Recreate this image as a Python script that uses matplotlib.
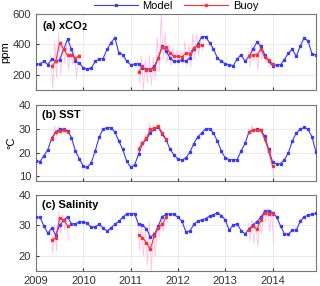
import numpy as np
import matplotlib
matplotlib.use("Agg")
import matplotlib.pyplot as plt

plt.rcParams['font.family'] = ['Liberation Sans', 'DejaVu Sans']

# meses desde enero 2009 (72 valores mensuales)
anios = 2009 + np.arange(72) / 12.0

# --- xCO2 (ppm) ---
co2_modelo = [270, 272, 290, 268, 305, 289, 300, 367, 435, 367, 289, 278,
              244, 240, 244, 289, 304, 307, 367, 411, 444, 344, 333, 289,
              267, 271, 273, 244, 238, 235, 256, 311, 389, 356, 311, 289,
              289, 300, 289, 311, 371, 400, 451, 451, 411, 371, 311, 289,
              273, 267, 260, 304, 333, 289, 322, 367, 415, 389, 333, 289,
              260, 267, 267, 300, 344, 367, 322, 389, 444, 422, 336, 333]
co2_boya_mes = [list(range(4, 12)), list(range(26, 43)), list(range(54, 61))]
co2_boya = [[256, 289, 411, 367, 329, 329, 311, 327],
            [218, 256, 229, 240, 240, 311, 384, 382, 344, 322, 322, 318, 344, 340, 378, 393, 396],
            [327, 333, 333, 367, 318, 296, 273]]
co2_rosa_max = [[330, 420, 480, 420, 400, 390, 360, 340],
                [300, 320, 300, 330, 310, 450, 600, 480, 400, 380, 360, 350, 420, 400, 470, 470, 430],
                [380, 400, 380, 420, 360, 320, 290]]
co2_rosa_min = [[110, 180, 200, 280, 230, 270, 180, 300],
                [150, 100, 150, 130, 180, 220, 300, 280, 260, 270, 290, 270, 260, 250, 300, 330, 360],
                [250, 290, 230, 300, 280, 250, 260]]

# --- SST (C) ---
sst_modelo = [16.6, 16.2, 18.6, 21.2, 26.1, 28.8, 29.7, 29.7, 29.2, 26.2, 20.6, 17.3,
              14.2, 13.8, 15.6, 20.6, 26.4, 30.0, 30.4, 30.5, 28.6, 24.8, 21.3, 16.3,
              13.8, 14.8, 19.2, 23.8, 25.6, 28.3, 29.7, 30.8, 27.6, 25.4, 21.3, 19.0,
              17.2, 16.8, 17.7, 20.1, 23.7, 26.6, 28.2, 30.0, 30.0, 28.3, 24.8, 20.6,
              17.7, 17.0, 17.0, 17.0, 20.6, 23.8, 28.6, 29.3, 29.7, 29.4, 26.9, 21.3,
              16.0, 15.2, 15.3, 17.0, 19.9, 24.8, 28.3, 29.7, 30.6, 29.7, 26.5, 20.1]
sst_boya_mes = [list(range(4, 9)), list(range(26, 34)), list(range(54, 61))]
sst_boya = [[25.8, 28.5, 29.0, 29.4, 28.7],
            [21.5, 24.0, 26.0, 29.8, 30.2, 31.0, 28.3, 25.6],
            [28.8, 29.3, 29.6, 29.4, 25.5, 20.8, 14.2]]
sst_rosa_max = [[27, 31, 31, 30.5, 29.5],
                [22.5, 25, 28, 32, 31.5, 32, 29.5, 26],
                [30, 31.5, 30.5, 30, 27, 22, 17]]
sst_rosa_min = [[24.5, 27, 28, 28.5, 28],
                [21, 23, 25, 28.5, 29, 29.5, 27.5, 25],
                [28, 28.5, 29, 28.5, 24.5, 18, 9.5]]

# --- Salinidad ---
sal_modelo = [32.6, 32.7, 29.8, 27.4, 29.2, 26.8, 30.0, 31.8, 32.7, 30.5, 30.5, 31.2,
              31.2, 30.7, 29.3, 29.5, 30.3, 29.2, 28.1, 29.2, 30.3, 31.4, 32.6, 33.9,
              33.9, 33.9, 30.3, 30.1, 28.9, 26.2, 27.0, 29.8, 32.9, 33.7, 33.7, 33.7,
              32.6, 31.4, 27.9, 28.1, 30.3, 31.4, 31.8, 32.2, 33.1, 33.4, 34.2, 33.2,
              31.8, 28.4, 30.1, 30.5, 28.3, 27.2, 28.8, 30.2, 31.2, 32.7, 34.6, 34.8,
              34.2, 32.8, 29.8, 27.2, 27.1, 28.4, 28.4, 31.4, 32.9, 33.3, 33.7, 34.0]
sal_boya_mes = [list(range(4, 9)), list(range(26, 34)), list(range(54, 61))]
sal_boya = [[25.3, 26.0, 32.4, 31.8, 29.9],
            [26.8, 26.0, 24.3, 22.2, 26.6, 29.0, 30.5, 32.6],
            [28.5, 29.8, 28.7, 31.8, 34.2, 33.8, 33.7]]
sal_rosa_max = [[28, 30, 34.5, 33.5, 33],
                [32, 31, 29, 31, 28, 30, 32, 33],
                [31, 32, 30, 33, 35.5, 35.5, 35]]
sal_rosa_min = [[21, 21.5, 27, 28.5, 25],
                [22, 20, 17, 15, 20, 26, 28, 31],
                [25, 24, 23, 27, 31, 28, 24]]

azul = '#3a3aff'
rojo = '#ff3030'
rosa = '#ff99dd'

fig = plt.figure(figsize=(3.2, 2.86), dpi=100)
posiciones = [[0.1125, 0.685, 0.875, 0.266],
              [0.1125, 0.367, 0.875, 0.266],
              [0.1125, 0.0524, 0.875, 0.266]]

paneles = [
    (co2_modelo, co2_boya_mes, co2_boya, co2_rosa_max, co2_rosa_min, (100, 600), [200, 400, 600], r'(a) xCO$_\mathbf{2}$', 'ppm'),
    (sst_modelo, sst_boya_mes, sst_boya, sst_rosa_max, sst_rosa_min, (8, 40), [10, 20, 30, 40], '(b) SST', '°C'),
    (sal_modelo, sal_boya_mes, sal_boya, sal_rosa_max, sal_rosa_min, (15, 40), [20, 30, 40], '(c) Salinity', ''),
]

ejes = []
for k, (modelo, meses, boya, rmax, rmin, lim, yt, titulo, ylab) in enumerate(paneles):
    ax = fig.add_axes(posiciones[k])
    # serie de alta frecuencia de la boya (rosa)
    for mm, hi, lo in zip(meses, rmax, rmin):
        xs, ys = [], []
        for m, h, l in zip(mm, hi, lo):
            xs += [2009 + (m - 0.25) / 12.0, 2009 + (m + 0.25) / 12.0]
            ys += [h, l]
        ax.plot(xs, ys, color=rosa, lw=0.6, alpha=0.6, zorder=1)
    ax.plot(anios, modelo, color=azul, lw=0.8, marker='s', ms=1.4, zorder=3,
            label='Model' if k == 0 else None)
    for j, (mm, vals) in enumerate(zip(meses, boya)):
        ax.plot(2009 + np.array(mm) / 12.0, vals, color=rojo, lw=0.8, marker='s',
                ms=1.4, zorder=4, label='Buoy' if (k == 0 and j == 0) else None)
    ax.set_xlim(2009, 2009 + 71 / 12.0)
    ax.set_ylim(*lim)
    ax.set_yticks(yt)
    ax.set_xticks([2009, 2010, 2011, 2012, 2013, 2014])
    ax.grid(True, color='#e6e6e6', lw=0.6)
    ax.set_axisbelow(True)
    ax.tick_params(direction='in', labelsize=8, length=2, colors='#333333')
    for s in ax.spines.values():
        s.set_color('#777777')
        s.set_linewidth(0.8)
    if k < 2:
        ax.set_xticklabels([])
    ax.text(0.02, 0.93, titulo, transform=ax.transAxes, fontsize=8,
            fontweight='bold', va='top', ha='left')
    if ylab:
        ax.set_ylabel(ylab, fontsize=8, labelpad=2)
    ejes.append(ax)

ejes[0].legend(loc='lower center', bbox_to_anchor=(0.5, 0.98), ncol=2,
               frameon=False, fontsize=8, handlelength=4, columnspacing=1.0,
               borderaxespad=0, handletextpad=0.4)

fig.savefig('out.png', dpi=100)
